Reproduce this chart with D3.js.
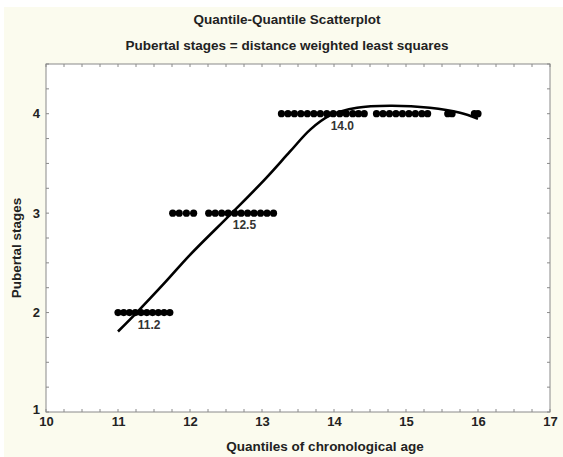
<!DOCTYPE html>
<html>
<head>
<meta charset="utf-8">
<script src="https://cdn.jsdelivr.net/npm/d3@7"></script>
<style>
  body { margin: 0; background: #fff; }
  text { font-family: "Liberation Sans", Arial, sans-serif; font-weight: bold; fill: #222; }
</style>
</head>
<body>
<div id="chart"></div>
<script>
// quantiles of age (x) per pubertal stage (y)
let stage2 = [11.0, 11.08, 11.16, 11.24, 11.32, 11.40, 11.48, 11.56, 11.64, 11.72];
let stage3 = [11.76, 11.85, 11.95, 12.05,
              12.26, 12.35, 12.44, 12.53, 12.62, 12.71, 12.80, 12.89, 12.98, 13.07, 13.16];
let stage4 = [13.27, 13.36, 13.45, 13.54, 13.63, 13.72, 13.81, 13.90, 13.99, 14.08, 14.17, 14.26, 14.34, 14.42,
              14.59, 14.68, 14.77, 14.86, 14.95, 15.04, 15.13, 15.22, 15.30,
              15.58, 15.64, 15.95, 16.0];
// distance weighted least squares fit
let fitX = [11.0, 11.26, 11.65, 12.0, 12.58, 13.04, 13.39, 13.67, 13.94, 14.32, 14.78, 15.33, 15.75, 16.0];
let fitY = [1.81, 2.0, 2.3, 2.58, 3.0, 3.34, 3.62, 3.84, 3.98, 4.06, 4.08, 4.06, 4.01, 3.95];
let marks = [{x: 11.26, y: 2, label: "11.2"}, {x: 12.58, y: 3, label: "12.5"}, {x: 13.94, y: 4, label: "14.0"}];
let xTicks = [10, 11, 12, 13, 14, 15, 16, 17];
let yTicks = [1, 2, 3, 4];

let W = 563, H = 457;
let margin = {top: 64, right: 13, bottom: 45, left: 46};
let width = W - margin.left - margin.right,
    height = H - margin.top - margin.bottom;

let svg = d3.select("#chart").append("svg")
    .attr("width", W)
    .attr("height", H);

svg.append("rect")
    .attr("x", 4).attr("y", 7)
    .attr("width", W - 4).attr("height", H - 7)
    .attr("fill", "#fbfbee");

let x = d3.scaleLinear().domain([10, 17]).range([0, width]);
let y = d3.scaleLinear().domain([1, 4.5]).range([height, 0]);

let canvas = svg.append("g")
    .attr("transform", "translate(" + margin.left + "," + margin.top + ")");

canvas.append("rect")
    .attr("width", width).attr("height", height)
    .attr("fill", "#fff").attr("stroke", "#8a8a8a").attr("stroke-width", 1);

// minor ticks, inward on all four sides
let xMinor = d3.range(10, 17.001, 0.25), yMinor = d3.range(1, 4.501, 0.25);
let tickG = canvas.append("g").attr("stroke", "#8a8a8a").attr("stroke-width", 1);
xMinor.forEach(function(v) {
    tickG.append("line").attr("x1", x(v)).attr("x2", x(v)).attr("y1", height).attr("y2", height - 3);
    tickG.append("line").attr("x1", x(v)).attr("x2", x(v)).attr("y1", 0).attr("y2", 3);
});
yMinor.forEach(function(v) {
    tickG.append("line").attr("y1", y(v)).attr("y2", y(v)).attr("x1", 0).attr("x2", 3);
    tickG.append("line").attr("y1", y(v)).attr("y2", y(v)).attr("x1", width).attr("x2", width - 3);
});

let xAxis = d3.axisBottom(x).tickValues(xTicks).tickSize(0).tickPadding(5).tickFormat(d3.format("d"));
let yAxis = d3.axisLeft(y).tickValues(yTicks).tickSize(0).tickPadding(6).tickFormat(d3.format("d"));

canvas.append("g")
    .attr("transform", "translate(0," + height + ")")
    .call(xAxis)
    .call(function(g) { g.select(".domain").remove(); })
    .selectAll("text").style("font-size", "13px");

canvas.append("g")
    .call(yAxis)
    .call(function(g) { g.select(".domain").remove(); })
    .selectAll("text").style("font-size", "13px")
    .attr("dy", function(d) { return d === 1 ? "0.1em" : "0.32em"; });

// fit curve
let valueline = d3.line()
    .curve(d3.curveCatmullRom)
    .x(function(d) { return x(d[0]); })
    .y(function(d) { return y(d[1]); });

// points
let pts = [].concat(
    stage2.map(function(v) { return [v, 2]; }),
    stage3.map(function(v) { return [v, 3]; }),
    stage4.map(function(v) { return [v, 4]; }));

canvas.append("g").selectAll("circle")
    .data(pts)
    .enter().append("circle")
    .attr("cx", function(d) { return x(d[0]); })
    .attr("cy", function(d) { return y(d[1]); })
    .attr("r", 3.6)
    .attr("fill", "#000");

canvas.append("path")
    .attr("d", valueline(d3.zip(fitX, fitY)))
    .attr("fill", "none")
    .attr("stroke", "#000")
    .attr("stroke-width", 2.6);

canvas.append("g").selectAll("text")
    .data(marks)
    .enter().append("text")
    .attr("x", function(d) { return x(d.x) + 1; })
    .attr("y", function(d) { return y(d.y) + 16; })
    .style("font-size", "12px")
    .style("fill", "#333")
    .text(function(d) { return d.label; });

// titles
svg.append("text").attr("x", 287).attr("y", 24).attr("text-anchor", "middle")
    .style("font-size", "13.5px").text("Quantile-Quantile Scatterplot");
svg.append("text").attr("x", 287).attr("y", 50).attr("text-anchor", "middle")
    .style("font-size", "13.5px").text("Pubertal stages = distance weighted least squares");
svg.append("text").attr("x", 325).attr("y", 451).attr("text-anchor", "middle")
    .style("font-size", "13.5px").text("Quantiles of chronological age");
svg.append("text")
    .attr("transform", "translate(21,248) rotate(-90)")
    .attr("text-anchor", "middle")
    .style("font-size", "13.5px").text("Pubertal stages");
</script>
</body>
</html>
